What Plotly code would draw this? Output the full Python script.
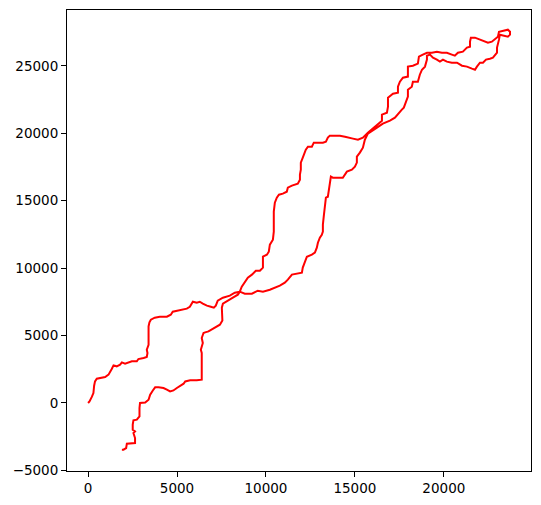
import plotly.graph_objects as go

# Path coordinates (data units)
path_x = [0, 80, 210, 300, 340, 390, 490, 670, 960, 1150, 1240, 1330, 1430, 1610, 1800, 1900, 2080, 2270, 2460, 2740,
          2830, 3120, 3300, 3340, 3300, 3400, 3400, 3400, 3450, 3530, 3750, 4030, 4430, 4650, 4760, 4990, 5270, 5550, 5720, 5890,
          6110, 6280, 6450, 6680, 6900, 7070, 7180, 7290, 7580, 7970, 8250, 8530, 8640, 8810, 8980, 9210, 9430, 9660, 9830, 9830,
          9830, 10050, 10160, 10220, 10390, 10440, 10440, 10440, 10500, 10610, 10730, 10950, 11170, 11230, 11460, 11620, 11790, 11910, 11910, 11960,
          11960, 12070, 12190, 12240, 12360, 12580, 12690, 12920, 13200, 13370, 13480, 13590, 13870, 14160, 14440, 14610, 14890, 15170, 15450, 15730,
          16010, 16240, 16520, 16520, 16800, 16860, 16860, 17140, 17420, 17420, 17530, 17700, 17980, 17980, 18260, 18540, 18600, 18820, 19050, 19330,
          19610, 19890, 20170, 20450, 20620, 20790, 21070, 21300, 21470, 21470, 21520, 21750, 22030, 22310, 22480, 22700, 22870, 23040, 23100, 23320,
          23600, 23720, 23720, 23600, 23320, 23150, 23100, 23040, 22990, 22990, 22760, 22590, 22370, 22200, 22030, 21860, 21750, 21580, 21300, 21020,
          20740, 20450, 20170, 19950, 19780, 19610, 19390, 19220, 19050, 19050, 18940, 18770, 18650, 18540, 18260, 18200, 17980, 17980, 17870, 17750,
          17640, 17420, 17250, 16970, 16570, 16240, 16010, 15730, 15560, 15510, 15450, 15280, 15110, 15110, 15000, 14830, 14550, 14320, 14040, 13760,
          13650, 13590, 13540, 13480, 13370, 13310, 13260, 13200, 13200, 13140, 13030, 12920, 12860, 12750, 12580, 12300, 12190, 12070, 12020, 11740,
          11460, 11230, 11060, 10780, 10500, 10220, 9830, 9540, 9210, 8810, 8530, 8420, 8140, 7860, 7580, 7520, 7520, 7550, 7410, 7240,
          7050, 6770, 6580, 6490, 6390, 6450, 6340, 6390, 6390, 6110, 5740, 5460, 5370, 5170, 4990, 4800, 4610, 4430, 4240, 3960,
          3770, 3640, 3490, 3400, 3210, 2920, 2890, 2890, 2740, 2550, 2510, 2510, 2640, 2550, 2640, 2640, 2360, 2180, 2140, 1990,
          1900]
path_y = [0, 120, 450, 740, 1280, 1600, 1800, 1850, 1930, 2100, 2270, 2520, 2790, 2720, 2840, 3010, 2920, 3010, 3090, 3090,
          3260, 3340, 3410, 3710, 3950, 4320, 5210, 5680, 5980, 6180, 6330, 6400, 6400, 6550, 6770, 6850, 6920, 7000, 7140, 7510,
          7440, 7510, 7370, 7220, 7140, 7070, 7220, 7590, 7810, 7960, 8180, 8260, 8630, 9000, 9300, 9520, 9810, 9810, 10040, 10480,
          10850, 11000, 11220, 11740, 12110, 12710, 13450, 14190, 14860, 15230, 15450, 15530, 15670, 15970, 16120, 16190, 16270, 16560, 16940, 17310,
          17830, 18200, 18570, 18790, 19010, 19010, 19310, 19310, 19310, 19380, 19680, 19830, 19830, 19830, 19750, 19680, 19610, 19530, 19680, 20050,
          20350, 20640, 20940, 21390, 21530, 21980, 22650, 22940, 23020, 23460, 23830, 24130, 24210, 24950, 25020, 25170, 25690, 25840, 25980, 25980,
          26060, 25980, 25980, 25840, 25760, 25980, 26060, 26360, 26430, 26800, 27100, 27100, 26950, 26800, 26730, 26800, 27020, 27170, 27540, 27620,
          27690, 27540, 27320, 27170, 27250, 27320, 26950, 26580, 26360, 25980, 25610, 25540, 25470, 25240, 25240, 24950, 24720, 24800, 24950, 25020,
          25240, 25240, 25320, 25470, 25320, 25470, 25610, 25840, 25760, 25470, 24950, 24720, 24350, 23830, 23830, 23460, 23240, 22720, 22280, 21910,
          21760, 21460, 21160, 20940, 20720, 20420, 20200, 19980, 19530, 19310, 18940, 18570, 18270, 17830, 17530, 17310, 17160, 16710, 16710, 16710,
          16790, 16340, 15670, 15300, 15230, 14710, 13970, 13230, 12710, 12480, 12260, 11890, 11520, 11150, 11000, 10850, 10480, 10040, 9670, 9590,
          9520, 9150, 8920, 8700, 8550, 8400, 8260, 8330, 8110, 8110, 8260, 8030, 7810, 7590, 7370, 7070, 6550, 6110, 5810, 5680,
          5490, 5310, 5240, 5190, 4820, 4450, 3950, 3710, 1730, 1680, 1680, 1600, 1430, 1280, 1110, 930, 860, 990, 1110, 1160,
          1160, 930, 620, 240, 40, 0, -370, -990, -1240, -1290, -1610, -1980, -2110, -2230, -2600, -2970, -2970, -3020, -3340, -3460,
          -3460]

x_ticks = [0, 5000, 10000, 15000, 20000]
y_ticks = [-5000, 0, 5000, 10000, 15000, 20000, 25000]
x_range = [-1185, 24900]
y_range = [-5045, 29150]

fig = go.Figure()
fig.add_trace(go.Scatter(x=path_x, y=path_y, mode="lines",
                         line=dict(color="#ff0000", width=2), hoverinfo="skip"))

axis_common = dict(showline=True, linecolor="black", linewidth=1, mirror=True,
                   showgrid=False, zeroline=False, ticks="outside", ticklen=5,
                   tickcolor="black", tickwidth=1, tickformat="d", automargin=False,
                   tickfont=dict(family="DejaVu Sans", size=13.5, color="black"))

fig.update_xaxes(range=x_range, tickvals=x_ticks, **axis_common)
fig.update_yaxes(range=y_range, tickvals=y_ticks, **axis_common)

# page body has an 8px margin, so the figure is sized/offset to fit the window
fig.update_layout(width=533, height=497, margin=dict(l=59, r=10, t=2, b=34, pad=0),
                  paper_bgcolor="white", plot_bgcolor="white", showlegend=False)

fig.write_html("out.html")
